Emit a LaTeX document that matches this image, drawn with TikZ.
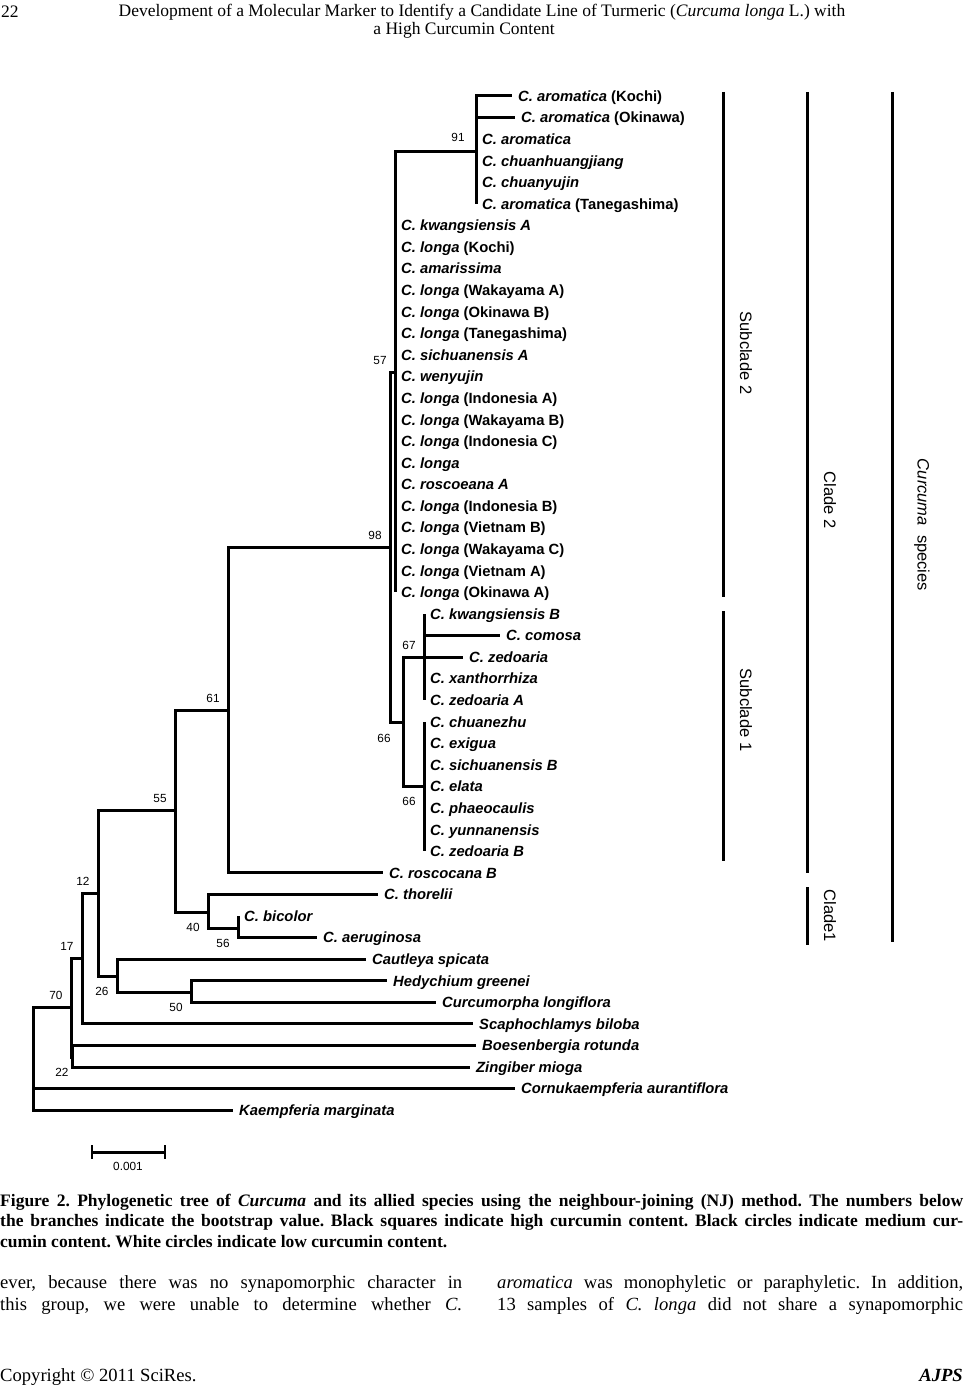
\documentclass[tikz,border=0pt]{standalone}
\usepackage{fontspec}
\setmainfont{Liberation Serif}
\newfontfamily\arialfont{Liberation Sans}
\usetikzlibrary{calc}
\frenchspacing

\tikzset{
  branch/.style={line width=3pt},
  bar/.style={line width=3pt},
  taxon/.style={anchor=west, inner xsep=6pt, inner ysep=0pt, text height=13.6pt, text depth=3pt,
    font=\arialfont\bfseries\fontsize{14.8}{17}\selectfont},
  boot/.style={inner sep=0pt, font=\arialfont\fontsize{11.8}{13}\selectfont},
  bootup/.style={boot, xshift=-15pt, yshift=12pt},
  bootdown/.style={boot, xshift=-15pt, yshift=-15pt},
  clade/.style={inner sep=0pt, rotate=-90, font=\arialfont\fontsize{16.5}{18}\selectfont},
  page/.style={inner sep=0pt, font=\fontsize{17.5}{20}\selectfont},
  body/.style={inner sep=0pt, anchor=west, font=\fontsize{18.6}{22}\selectfont}
}

\begin{document}
\begin{tikzpicture}[x=1pt, y=-1pt]
    % page area
    \fill[white] (0,0) rectangle (965,1386);
    \useasboundingbox (0,0) rectangle (965,1386);

    % running head
    \node[page, anchor=west] (pageno) at (1,12) {22};
    \node[page] (head1) at (482,12) {Development of a Molecular Marker to Identify a Candidate Line of Turmeric (\textit{Curcuma longa} L.) with};
    \node[page] (head2) at (464,30) {a High Curcumin Content};

    % taxa, one row each
    \foreach \i/\bx/\txt in {
        1/512/{\textit{C. aromatica} (Kochi)},
        2/515/{\textit{C. aromatica} (Okinawa)},
        3/476/{\textit{C. aromatica}},
        4/476/{\textit{C. chuanhuangjiang}},
        5/476/{\textit{C. chuanyujin}},
        6/476/{\textit{C. aromatica} (Tanegashima)},
        7/395/{\textit{C. kwangsiensis A}},
        8/395/{\textit{C. longa} (Kochi)},
        9/395/{\textit{C. amarissima}},
        10/395/{\textit{C. longa} (Wakayama A)},
        11/395/{\textit{C. longa} (Okinawa B)},
        12/395/{\textit{C. longa} (Tanegashima)},
        13/395/{\textit{C. sichuanensis A}},
        14/395/{\textit{C. wenyujin}},
        15/395/{\textit{C. longa} (Indonesia A)},
        16/395/{\textit{C. longa} (Wakayama B)},
        17/395/{\textit{C. longa} (Indonesia C)},
        18/395/{\textit{C. longa}},
        19/395/{\textit{C. roscoeana A}},
        20/395/{\textit{C. longa} (Indonesia B)},
        21/395/{\textit{C. longa} (Vietnam B)},
        22/395/{\textit{C. longa} (Wakayama C)},
        23/395/{\textit{C. longa} (Vietnam A)},
        24/395/{\textit{C. longa} (Okinawa A)},
        25/424/{\textit{C. kwangsiensis B}},
        26/500/{\textit{C. comosa}},
        27/463/{\textit{C. zedoaria}},
        28/424/{\textit{C. xanthorrhiza}},
        29/424/{\textit{C. zedoaria A}},
        30/424/{\textit{C. chuanezhu}},
        31/424/{\textit{C. exigua}},
        32/424/{\textit{C. sichuanensis B}},
        33/424/{\textit{C. elata}},
        34/424/{\textit{C. phaeocaulis}},
        35/424/{\textit{C. yunnanensis}},
        36/424/{\textit{C. zedoaria B}},
        37/383/{\textit{C. roscocana B}},
        38/378/{\textit{C. thorelii}},
        39/238/{\textit{C. bicolor}},
        40/317/{\textit{C. aeruginosa}},
        41/366/{\textit{Cautleya spicata}},
        42/387/{\textit{Hedychium greenei}},
        43/436/{\textit{Curcumorpha longiflora}},
        44/473/{\textit{Scaphochlamys biloba}},
        45/476/{\textit{Boesenbergia rotunda}},
        46/470/{\textit{Zingiber mioga}},
        47/515/{\textit{Cornukaempferia aurantiflora}},
        48/233/{\textit{Kaempferia marginata}}} {
        \node[taxon] (t\i) at ({\bx}, {96+(\i-1)*21.58}) {\txt};
    }

    % internal nodes of the tree
    \coordinate (n91) at (476,151);
    \coordinate (n57) at (395,372);
    \coordinate (n98) at (390,547);
    \coordinate (n66) at (403,722);
    \coordinate (n67) at (424,657);
    \coordinate (n66b) at (424,786);
    \coordinate (n61) at (228,710);
    \coordinate (n55) at (175,810);
    \coordinate (n40) at (208,912);
    \coordinate (n56) at (238,928);
    \coordinate (n12) at (98,893);
    \coordinate (n26) at (117,976);
    \coordinate (n50) at (191,992);
    \coordinate (n17) at (82,958);
    \coordinate (n70) at (71,1007);
    \coordinate (n22) at (72,1057);
    \coordinate (root) at (33,1050);

    % branches to the taxa
    \foreach \p/\c in {n91/1,n91/2,n91/3,n91/4,n91/5,n91/6,
        n57/7,n57/8,n57/9,n57/10,n57/11,n57/12,n57/13,n57/14,n57/15,
        n57/16,n57/17,n57/18,n57/19,n57/20,n57/21,n57/22,n57/23,n57/24,
        n67/25,n67/26,n67/27,n67/28,n67/29,
        n66b/30,n66b/31,n66b/32,n66b/33,n66b/34,n66b/35,n66b/36,
        n61/37,n40/38,n56/39,n56/40,n26/41,n50/42,n50/43,
        n17/44,n22/45,n22/46,root/47,root/48} {
        \draw[branch] (\p) |- (t\c.west);
    }

    % branches between internal nodes
    \foreach \p/\c in {n57/n91,n98/n57,n98/n66,n66/n67,n66/n66b,n61/n98,
        n55/n61,n55/n40,n40/n56,n12/n55,n12/n26,n26/n50,n17/n12,
        n70/n17,n70/n22,root/n70} {
        \draw[branch] (\p) |- (\c);
    }

    % bootstrap values
    \node[boot] (b91) at ($(n91)+(-18,-14)$) {91};
    \node[bootup] (b57) at (n57) {57};
    \node[bootup] (b98) at (n98) {98};
    \node[bootup] (b67) at (n67) {67};
    \node[boot] (b66) at ($(n66)+(-19,16)$) {66};
    \node[bootdown] (b66b) at (n66b) {66};
    \node[bootup] (b61) at (n61) {61};
    \node[bootup] (b55) at (n55) {55};
    \node[bootdown] (b40) at (n40) {40};
    \node[bootdown] (b56) at (n56) {56};
    \node[bootup] (b12) at (n12) {12};
    \node[bootdown] (b26) at (n26) {26};
    \node[bootdown] (b50) at (n50) {50};
    \node[bootup] (b17) at (n17) {17};
    \node[bootup] (b70) at (n70) {70};
    \node[boot] (b22) at ($(n22)+(-10,15)$) {22};

    % scale bar
    \draw[branch] (92,1152) -- (165,1152);
    \draw[line width=2.4pt] (92,1145) -- (92,1159);
    \draw[line width=2.4pt] (165,1145) -- (165,1159);
    \node[boot] (scale) at (128,1166) {0.001};

    % clade bars on the right
    \draw[bar] (723,92) -- (723,597);
    \draw[bar] (723,611) -- (723,861);
    \draw[bar] (807,92) -- (807,873);
    \draw[bar] (807,887) -- (807,945);
    \draw[bar] (892,92) -- (892,942);
    \node[clade] (sub2) at (746,353) {Subclade 2};
    \node[clade] (sub1) at (746,710) {Subclade 1};
    \node[clade] (cl2) at (830,500) {Clade 2};
    \node[clade] (cl1) at (830,916) {Clade1};
    \node[clade] (cur) at (922,525) {\textit{Curcuma}~ species};

    % caption and running text
    \node[page, anchor=west] (cap1) at (0,1202) {\makebox[963pt][s]{\bfseries Figure 2. Phylogenetic tree of \textit{Curcuma} and its allied species using the neighbour-joining (NJ) method. The numbers below}};
    \node[page, anchor=west] (cap2) at (0,1222) {\makebox[963pt][s]{\bfseries the branches indicate the bootstrap value. Black squares indicate high curcumin content. Black circles indicate medium cur-}};
    \node[page, anchor=west] (cap3) at (0,1242) {\bfseries cumin content. White circles indicate low curcumin content.};
    \node[body] (txt1) at (0,1284) {\makebox[462pt][s]{ever, because there was no synapomorphic character in}};
    \node[body] (txt2) at (0,1306) {\makebox[462pt][s]{this group, we were unable to determine whether \textit{C.}}};
    \node[body] (txt3) at (497,1284) {\makebox[466pt][s]{\textit{aromatica} was monophyletic or paraphyletic. In addition,}};
    \node[body] (txt4) at (497,1306) {\makebox[466pt][s]{13 samples of \textit{C. longa} did not share a synapomorphic}};
    \node[body, anchor=base west] (copy) at (0,1381) {Copyright \textcopyright\ 2011 SciRes.};
    \node[body, anchor=base east] (jour) at (963,1381) {\bfseries\itshape AJPS};
\end{tikzpicture}
\end{document}
